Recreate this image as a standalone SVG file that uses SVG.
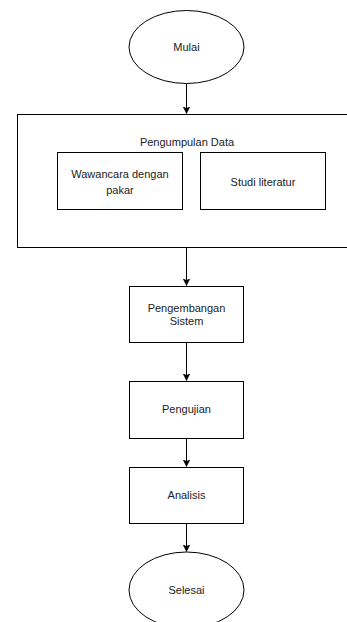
<svg xmlns="http://www.w3.org/2000/svg" width="347" height="622" viewBox="0 0 347 622">
<style>
.s{fill:#fff;stroke:#000;stroke-width:1}
.t{font-family:"Liberation Sans",Arial,sans-serif;font-size:11px;fill:#222;text-anchor:middle}
.c{stroke:#000;stroke-width:1;fill:none}
</style>
<defs>
<marker id="ah" markerWidth="8" markerHeight="8" refX="7" refY="4" orient="auto" markerUnits="userSpaceOnUse">
<path d="M0,0.5 L7,4 L0,7.5 L2,4 Z" fill="#000" stroke="#000" stroke-width="0.5"/>
</marker>
</defs>
<rect width="347" height="622" fill="#fff"/>
<g id="connectors">
<line class="c" x1="186.5" y1="83.5" x2="186.5" y2="113.5" marker-end="url(#ah)"/>
<line class="c" x1="186.5" y1="247.5" x2="186.5" y2="285.5" marker-end="url(#ah)"/>
<line class="c" x1="186.5" y1="342.5" x2="186.5" y2="380.5" marker-end="url(#ah)"/>
<line class="c" x1="186.5" y1="438.5" x2="186.5" y2="466.5" marker-end="url(#ah)"/>
<line class="c" x1="186.5" y1="523.5" x2="186.5" y2="551.5" marker-end="url(#ah)"/>
</g>
<g id="mulai">
<ellipse class="s" cx="186.5" cy="47" rx="57.5" ry="36.5"/>
<text class="t" x="186.5" y="51">Mulai</text>
</g>
<g id="pengumpulan">
<rect class="s" x="17.5" y="114.5" width="340" height="133"/>
<text class="t" x="187" y="146">Pengumpulan Data</text>
</g>
<g id="wawancara">
<rect class="s" x="57.5" y="152.5" width="125" height="57"/>
<text class="t" x="120" y="178">Wawancara dengan</text>
<text class="t" x="120" y="194">pakar</text>
</g>
<g id="studi">
<rect class="s" x="200.5" y="152.5" width="125" height="57"/>
<text class="t" x="263" y="186">Studi literatur</text>
</g>
<g id="pengembangan">
<rect class="s" x="129.5" y="286.5" width="114" height="56"/>
<text class="t" x="186.5" y="312">Pengembangan</text>
<text class="t" x="186.5" y="325">Sistem</text>
</g>
<g id="pengujian">
<rect class="s" x="129.5" y="381.5" width="114" height="57"/>
<text class="t" x="186.5" y="413">Pengujian</text>
</g>
<g id="analisis">
<rect class="s" x="129.5" y="467.5" width="114" height="56"/>
<text class="t" x="186.5" y="499">Analisis</text>
</g>
<g id="selesai">
<ellipse class="s" cx="186.5" cy="590" rx="57.5" ry="38"/>
<text class="t" x="186.5" y="594">Selesai</text>
</g>
</svg>
